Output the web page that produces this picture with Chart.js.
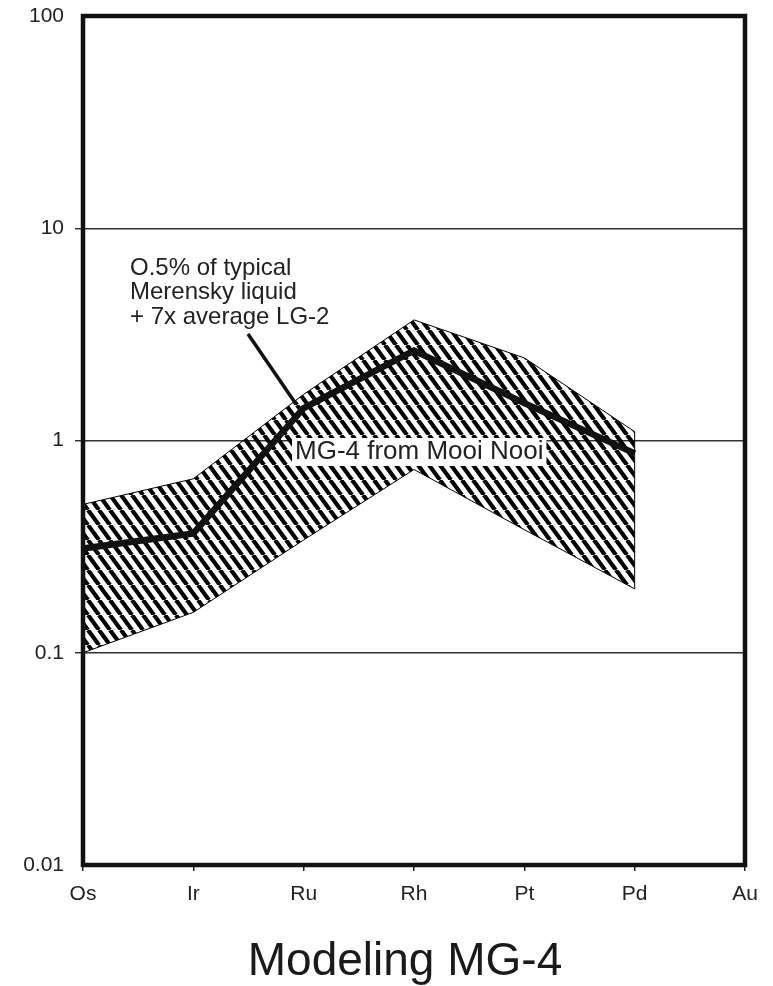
<!DOCTYPE html>
<html>
<head>
<meta charset="utf-8">
<script src="https://cdn.jsdelivr.net/npm/chart.js@4.4.1/dist/chart.umd.min.js"></script>
<style>
  html, body { margin: 0; padding: 0; background: #fff; }
  #wrap { width: 773px; height: 986px; position: relative; }
</style>
</head>
<body>
<div id="wrap"><canvas id="grafico"></canvas></div>
<script>
// elementos (eje x)
const elementos = ['Os', 'Ir', 'Ru', 'Rh', 'Pt', 'Pd', 'Au'];
// banda MG-4 de Mooi Nooi: limite superior e inferior
const bandaSuperior = [0.5, 0.66, 1.65, 3.7, 2.45, 1.1, null];
const bandaInferior = [0.1, 0.155, 0.34, 0.73, 0.38, 0.2, null];
// modelo: 0.5% liquido Merensky + 7x LG-2 promedio
const modelo = [0.31, 0.365, 1.42, 2.65, 1.5, 0.87, null];
// etiquetas del eje y
const marcasY = [0.01, 0.1, 1, 10, 100];
const lineasGuia = [0.1, 1, 10];

const titulo = 'Modeling MG-4';
const notaModelo = ['O.5% of typical', 'Merensky liquid', '+ 7x average LG-2'];
const notaBanda = 'MG-4 from Mooi Nooi';

const fuente = '"Liberation Sans", Arial, sans-serif';

function crearRayado() {
  const w = 11, h = 15;
  const c = document.createElement('canvas');
  c.width = w; c.height = h;
  const g = c.getContext('2d');
  g.strokeStyle = '#000';
  g.lineWidth = 4.2;
  g.beginPath();
  for (let k = -1; k <= 1; k++) {
    g.moveTo(k * w, 0);
    g.lineTo(k * w + w, h);
  }
  g.stroke();
  return g.createPattern(c, 'repeat');
}

const extras = {
  id: 'extras',
  afterDraw(chart) {
    const { ctx, chartArea: a, scales } = chart;
    const x = scales.x, y = scales.y;
    ctx.save();
    // borde derecho de la banda en Pd
    const iPd = elementos.indexOf('Pd');
    ctx.strokeStyle = '#000';
    ctx.lineWidth = 1;
    ctx.beginPath();
    ctx.moveTo(x.getPixelForValue(iPd), y.getPixelForValue(bandaSuperior[iPd]));
    ctx.lineTo(x.getPixelForValue(iPd), y.getPixelForValue(bandaInferior[iPd]));
    ctx.stroke();

    // etiqueta de la banda
    ctx.font = '26px ' + fuente;
    ctx.textBaseline = 'middle';
    const tw = ctx.measureText(notaBanda).width;
    const tx = 295, ty = 452;
    ctx.fillStyle = '#fff';
    ctx.fillRect(tx - 3, ty - 14, tw + 6, 28);
    ctx.fillStyle = '#222';
    ctx.fillText(notaBanda, tx, ty);

    // nota del modelo y su flecha
    ctx.font = '24px ' + fuente;
    ctx.fillStyle = '#222';
    notaModelo.forEach((t, i) => ctx.fillText(t, 130, 268 + i * 24.5));
    ctx.strokeStyle = '#111';
    ctx.lineWidth = 3.5;
    ctx.beginPath();
    ctx.moveTo(248, 334);
    ctx.lineTo(296, 404);
    ctx.stroke();

    // marco
    ctx.strokeStyle = '#111';
    ctx.lineWidth = 4.5;
    ctx.strokeRect(a.left, a.top, a.right - a.left, a.bottom - a.top);

    // titulo
    ctx.font = '46px ' + fuente;
    ctx.fillStyle = '#1a1a1a';
    ctx.textAlign = 'center';
    ctx.textBaseline = 'alphabetic';
    ctx.fillText(titulo, 405, 975);
    ctx.restore();
  }
};

document.addEventListener('DOMContentLoaded', () => {
  const lienzo = document.querySelector('#grafico');
  const rayado = crearRayado();
  new Chart(lienzo, {
    type: 'line',
    data: {
      labels: elementos,
      datasets: [
        {
          label: 'modelo',
          data: modelo,
          borderColor: '#111',
          borderWidth: 6.5,
          pointRadius: 0,
          fill: false,
          order: 0
        },
        {
          label: 'inferior',
          data: bandaInferior,
          borderColor: '#000',
          borderWidth: 1,
          pointRadius: 0,
          fill: false,
          order: 2
        },
        {
          label: 'superior',
          data: bandaSuperior,
          borderColor: '#000',
          borderWidth: 1,
          pointRadius: 0,
          backgroundColor: rayado,
          fill: '-1',
          order: 1
        }
      ]
    },
    options: {
      responsive: true,
      maintainAspectRatio: false,
      animation: false,
      layout: { padding: { left: 0, right: 28, top: 16, bottom: 0 } },
      plugins: {
        legend: { display: false },
        tooltip: { enabled: false }
      },
      scales: {
        x: {
          type: 'category',
          offset: false,
          border: { display: false },
          grid: {
            drawOnChartArea: false,
            drawTicks: true,
            tickLength: 6,
            color: '#222',
            lineWidth: 1.5
          },
          ticks: {
            color: '#222',
            font: { family: fuente, size: 21 },
            padding: 11,
            maxRotation: 0,
            autoSkip: false
          },
          afterFit(scale) { scale.height = 986 - 865; }
        },
        y: {
          type: 'logarithmic',
          min: 0.01,
          max: 100,
          border: { display: false },
          afterBuildTicks(scale) {
            scale.ticks = marcasY.map(v => ({ value: v }));
          },
          grid: {
            tickLength: 8,
            color: ctx => (ctx.tick && lineasGuia.includes(ctx.tick.value)) ? '#333' : 'rgba(0,0,0,0)',
            lineWidth: 1.5
          },
          ticks: {
            color: '#222',
            font: { family: fuente, size: 21 },
            padding: 11,
            callback: v => String(v)
          },
          afterFit(scale) {
            scale.width = 83;
            scale.paddingTop = 0;
            scale.paddingBottom = 0;
          }
        }
      }
    },
    plugins: [extras]
  });
});
</script>
</body>
</html>
